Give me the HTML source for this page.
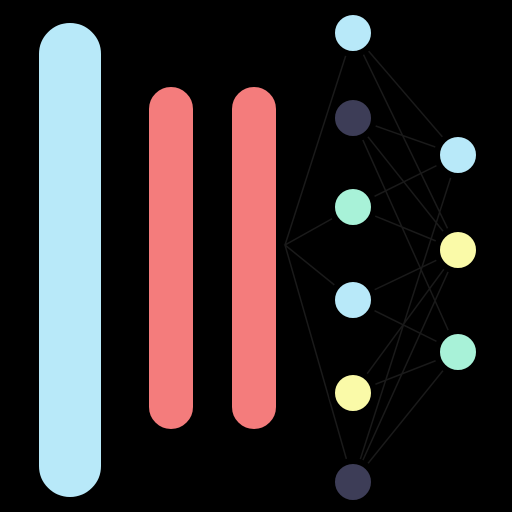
<!DOCTYPE html>
<html><head><style>
html,body{margin:0;padding:0;background:#000;}
svg{display:block;}
</style></head><body>
<svg width="512" height="512" viewBox="0 0 512 512">
<rect width="512" height="512" fill="#000"/>
<g stroke="#1a1a1a" stroke-width="1.5" fill="none">
<path d="M353 33 L285 245 L353 482 M353 33 L458 155 M353 33 L458 250 M353 118 L458 155 M353 118 L458 250 M353 118 L458 352 M353 207 L458 155 M353 207 L458 250 M353 207 L285 245 L353 300 M353 300 L458 250 M353 300 L458 352 M353 393 L458 250 M353 393 L458 352 M353 482 L458 250 M353 482 L458 155 M353 482 L458 352"/>
</g>
<rect x="36" y="20" width="68" height="480" rx="34" fill="#b8e9f9" stroke="#000" stroke-width="6"/>
<rect x="146" y="84" width="50" height="348" rx="25" fill="#f47c7c" stroke="#000" stroke-width="6"/>
<rect x="229" y="84" width="50" height="348" rx="25" fill="#f47c7c" stroke="#000" stroke-width="6"/>
<g stroke="#000" stroke-width="6">
<circle cx="353" cy="33" r="21" fill="#b8e9f9"/>
<circle cx="353" cy="118" r="21" fill="#3d3d57"/>
<circle cx="353" cy="207" r="21" fill="#a8f2d8"/>
<circle cx="353" cy="300" r="21" fill="#b8e9f9"/>
<circle cx="353" cy="393" r="21" fill="#fafaa8"/>
<circle cx="353" cy="482" r="21" fill="#3d3d57"/>
<circle cx="458" cy="155" r="21" fill="#b8e9f9"/>
<circle cx="458" cy="250" r="21" fill="#fafaa8"/>
<circle cx="458" cy="352" r="21" fill="#a8f2d8"/>
</g>
</svg>
</body></html>
